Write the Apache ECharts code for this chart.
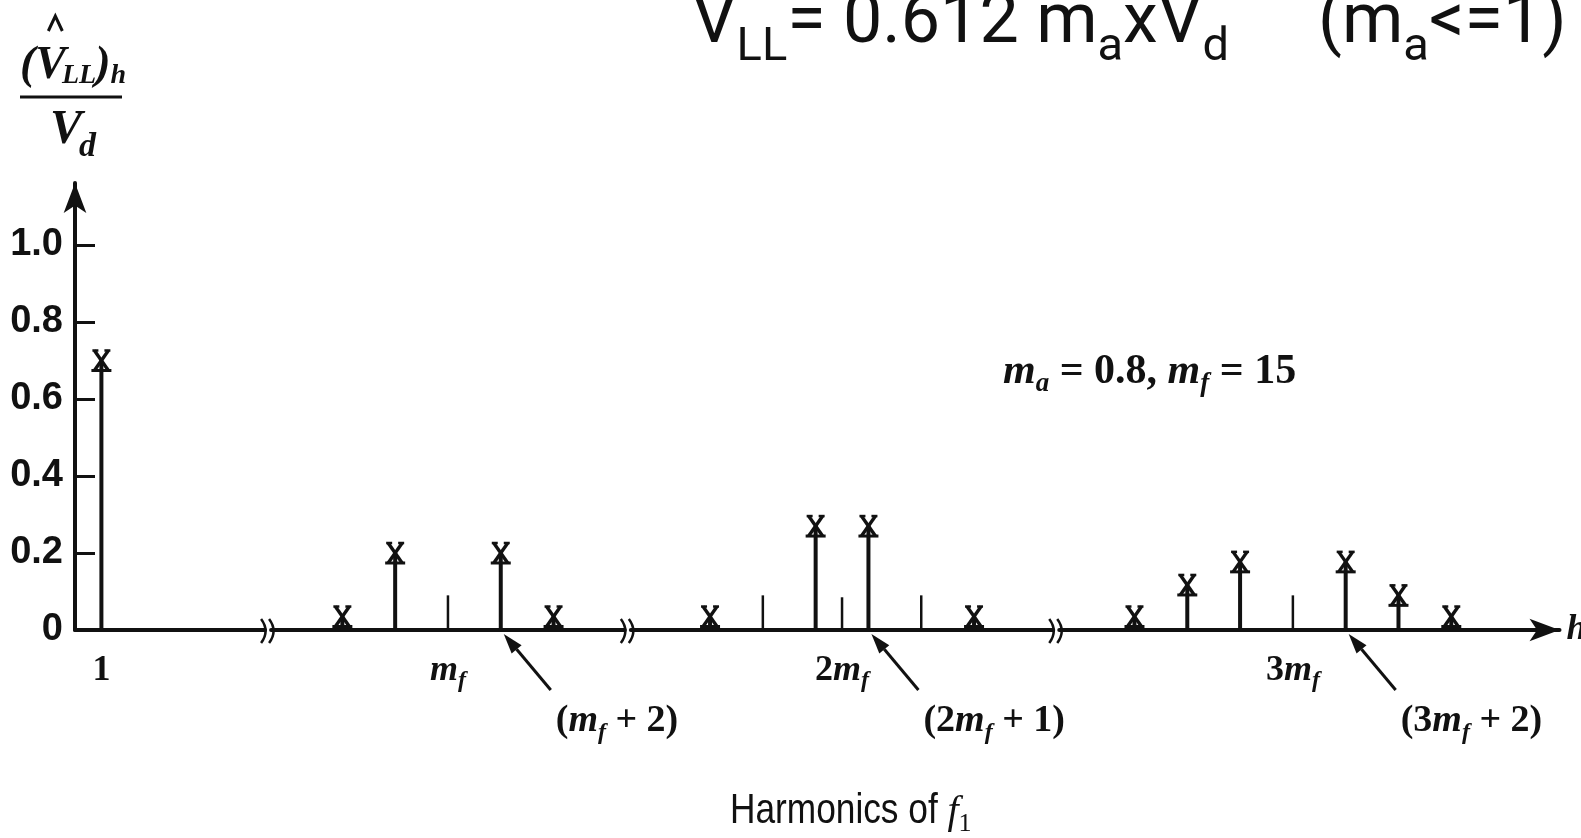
<!DOCTYPE html>
<html><head><meta charset="utf-8">
<script src="https://cdn.jsdelivr.net/npm/echarts@6/dist/echarts.min.js"></script>
<style>html,body{margin:0;padding:0;background:#fff}#c{width:1581px;height:838px}</style>
</head><body><div id="c"></div>
<script>
// ---------------- data ----------------
const harmonicOrders     = [1, 11, 13, 17, 19, 25, 29, 31, 35, 39, 41, 43, 47, 49, 51];
const harmonicAmplitudes = [0.70, 0.035, 0.20, 0.20, 0.035, 0.035, 0.27, 0.27, 0.035, 0.035, 0.117, 0.177, 0.177, 0.09, 0.035];
const tickOrders  = [15, 27, 30, 33, 45];
const tickHeights = [0.09, 0.09, 0.085, 0.09, 0.09];
const xLabelValues = [1, 15, 30, 45];
const xLabelTexts  = ['{n|1}', '{i|m}{s|f}', '{n|2}{i|m}{s|f}', '{n|3}{i|m}{s|f}'];
const yTickValues = [0, 0.2, 0.4, 0.6, 0.8, 1.0];
const yTickLabels = ['0', '0.2', '0.4', '0.6', '0.8', '1.0'];
const segMin = [0, 8.3, 22, 36.15];
const segMax = [7.2, 21.7, 38, 55.1];
const annotationOrders = [17, 31, 47];
const annotationTexts  = [['(', '+ 2)'], ['(2', '+ 1)'], ['(3', '+ 2)']];
const yMin = 0, yMax = 1.161;

// ---------------- layout / style ----------------
const UNIT = 26.4, GAP = 6, LEFT0 = 75, TOP = 183, BOTTOM = 208;
const INK = '#111';
const SERIF = '"Liberation Serif", "DejaVu Serif", serif';
const mctx = document.createElement('canvas').getContext('2d');
function hasFont(f) {
  const s = 'Harmonics 0.8 Wmi';
  mctx.font = '40px monospace'; const a = mctx.measureText(s).width;
  mctx.font = '40px "' + f + '", monospace'; const b = mctx.measureText(s).width;
  return Math.abs(a - b) > 0.5;
}
const HAS_NARROW = hasFont('Liberation Sans Narrow');
const NARROW = HAS_NARROW ? '"Liberation Sans Narrow", sans-serif' : '"Liberation Sans", sans-serif';
const NSX = HAS_NARROW ? 1 : 0.82;

function fontStr(r) { return (r.italic ? 'italic ' : 'normal ') + (r.bold ? 'bold ' : 'normal ') + r.size + 'px ' + r.family; }
function runs(x0, base, items) {
  let x = x0; const els = [], xs = [];
  for (const r of items) {
    mctx.font = fontStr(r);
    mctx.textBaseline = 'alphabetic'; const m1 = mctx.measureText(r.t);
    mctx.textBaseline = 'middle'; const m2 = mctx.measureText(r.t);
    let off = 0.3 * r.size;
    if (m1.fontBoundingBoxAscent != null && m2.fontBoundingBoxAscent != null) off = m1.fontBoundingBoxAscent - m2.fontBoundingBoxAscent;
    const sx = r.sx || 1;
    const y = base + (r.dy || 0) - off;
    const el = { type: 'text', x: x, y: y, z: 10, silent: true,
      style: { text: r.t, fill: INK, fontSize: r.size, fontFamily: r.family,
        fontWeight: r.bold ? 'bold' : 'normal', fontStyle: r.italic ? 'italic' : 'normal',
        align: 'left', verticalAlign: 'middle' } };
    if (sx !== 1) { el.scaleX = sx; el.originX = 0; el.originY = 0; }
    els.push(el);
    xs.push(x);
    x += m1.width * sx + (r.kern || 0);
  }
  return { els, xs, end: x };
}

const chart = echarts.init(document.getElementById('c'), null, { renderer: 'canvas' });

function segOf(h) { for (let i = 0; i < segMin.length; i++) if (h >= segMin[i] && h <= segMax[i]) return i; return -1; }

function renderStem(params, api) {
  const h = api.value(0), a = api.value(1);
  const p0 = api.coord([h, 0]), p1 = api.coord([h, a]);
  const cx = p1[0], cy = p1[1], w = 7, hh = 10;
  const st = { stroke: INK, lineWidth: 3.4 };
  return { type: 'group', children: [
    { type: 'line', shape: { x1: p0[0], y1: p0[1], x2: cx, y2: cy }, style: { stroke: INK, lineWidth: 4 } },
    { type: 'line', shape: { x1: cx - w, y1: cy - hh, x2: cx + w, y2: cy + hh }, style: st },
    { type: 'line', shape: { x1: cx + w, y1: cy - hh, x2: cx - w, y2: cy + hh }, style: st },
    { type: 'line', shape: { x1: cx - w - 2, y1: cy - hh, x2: cx - w + 4, y2: cy - hh }, style: { stroke: INK, lineWidth: 2.5 } },
    { type: 'line', shape: { x1: cx + w - 4, y1: cy - hh, x2: cx + w + 2, y2: cy - hh }, style: { stroke: INK, lineWidth: 2.5 } },
    { type: 'line', shape: { x1: cx - w - 3, y1: cy + hh, x2: cx + w + 3, y2: cy + hh }, style: { stroke: INK, lineWidth: 3 } }
  ]};
}
function renderTick(params, api) {
  const h = api.value(0), a = api.value(1);
  const p0 = api.coord([h, 0]), p1 = api.coord([h, a]);
  return { type: 'line', shape: { x1: p0[0], y1: p0[1], x2: p1[0], y2: p1[1] }, style: { stroke: INK, lineWidth: 2.5 } };
}

const grids = [], xAxes = [], yAxes = [], series = [];
const labelRich = {
  n: { fontFamily: SERIF, fontWeight: 'bold', fontSize: 36, lineHeight: 44, color: INK },
  i: { fontFamily: SERIF, fontWeight: 'bold', fontStyle: 'italic', fontSize: 36, lineHeight: 44, color: INK },
  s: { fontFamily: SERIF, fontWeight: 'bold', fontStyle: 'italic', fontSize: 24, lineHeight: 20, verticalAlign: 'bottom', color: INK }
};
let gx = LEFT0;
for (let i = 0; i < segMin.length; i++) {
  const w = (segMax[i] - segMin[i]) * UNIT;
  grids.push({ left: gx, width: w, top: TOP, bottom: BOTTOM, containLabel: false, outerBoundsMode: 'none' });
  gx += w + GAP;
  const last = i === segMin.length - 1;
  xAxes.push({
    type: 'value', gridIndex: i, min: segMin[i], max: segMax[i],
    axisLine: { show: true, onZero: true, lineStyle: { color: INK, width: 4 },
      symbol: last ? ['none', 'arrow'] : ['none', 'none'], symbolSize: [17, 30] },
    axisTick: { show: false }, splitLine: { show: false },
    axisLabel: { show: true, customValues: xLabelValues.filter(v => segOf(v) === i),
      formatter: v => xLabelTexts[xLabelValues.indexOf(v)], margin: 19,
      fontFamily: SERIF, fontWeight: 'bold', fontSize: 36, lineHeight: 44, color: INK, rich: labelRich },
    name: last ? 'h' : '', nameLocation: 'end', nameGap: 7,
    nameTextStyle: { fontFamily: SERIF, fontStyle: 'italic', fontWeight: 'bold', fontSize: 36, color: INK }
  });
  yAxes.push({
    type: 'value', gridIndex: i, min: yMin, max: yMax, show: i === 0,
    axisLine: { show: true, onZero: false, lineStyle: { color: INK, width: 4 }, symbol: ['none', 'arrow'], symbolSize: [17, 30] },
    axisTick: { show: true, inside: true, length: 20, lineStyle: { color: INK, width: 3 }, customValues: yTickValues.slice(1) },
    axisLabel: { show: true, customValues: yTickValues, formatter: v => yTickLabels[yTickValues.indexOf(v)],
      margin: 12, fontFamily: NARROW, fontWeight: 'bold', fontSize: HAS_NARROW ? 42 : 38, color: INK },
    splitLine: { show: false }
  });
  const stems = [], ticks = [];
  harmonicOrders.forEach((h, k) => { if (segOf(h) === i) stems.push([h, harmonicAmplitudes[k]]); });
  tickOrders.forEach((h, k) => { if (segOf(h) === i) ticks.push([h, tickHeights[k]]); });
  series.push({ type: 'custom', name: 'harmonics ' + i, coordinateSystem: 'cartesian2d', xAxisIndex: i, yAxisIndex: i,
    renderItem: renderStem, data: stems, z: 5, silent: true });
  series.push({ type: 'custom', name: 'positions ' + i, coordinateSystem: 'cartesian2d', xAxisIndex: i, yAxisIndex: i,
    renderItem: renderTick, data: ticks, z: 4, silent: true });
}

chart.setOption({ animation: false, backgroundColor: '#fff', grid: grids, xAxis: xAxes, yAxis: yAxes, series: series });

// ---------------- annotations (graphic) ----------------
const G = [];
const bi = (t, size, extra) => Object.assign({ t, size, family: SERIF, bold: true, italic: true }, extra || {});
const bu = (t, size, extra) => Object.assign({ t, size, family: SERIF, bold: true, italic: false }, extra || {});

// title
const R = '"Roboto", "Liberation Sans", sans-serif';
const tm = (t) => ({ t, size: 70, family: R });
const ts = (t) => ({ t, size: 47, family: R, dy: 18 });
G.push(...runs(692, 42, [tm('V'), ts('LL'), tm('= 0.612 m'), ts('a'), tm('xV'), ts('d')]).els);
G.push(...runs(1318, 42, [tm('(m'), ts('a'), tm('<=1)')]).els);

// y axis name: (V^_LL)_h / V_d
const num = runs(20, 78, [bi('(', 46), bi('V', 46, { kern: -4 }), bi('LL', 28, { dy: 5, kern: -1 }), bi(')', 46), bi('h', 28, { dy: 5 })]);
G.push(...num.els);
const vx = num.xs[1] + 20;
G.push({ type: 'polyline', z: 10, silent: true, shape: { points: [[vx - 7, 31], [vx, 16], [vx + 7, 31]] }, style: { stroke: INK, lineWidth: 3, fill: null } });
G.push({ type: 'line', z: 10, silent: true, shape: { x1: 20, y1: 97, x2: 122, y2: 97 }, style: { stroke: INK, lineWidth: 3 } });
G.push(...runs(50, 143, [bi('V', 48, { kern: -3 }), bi('d', 34, { dy: 13 })]).els);

// m_a = 0.8, m_f = 15
G.push(...runs(1003, 383, [bi('m', 42), bi('a', 27, { dy: 8 }), bu(' = 0.8, ', 42), bi('m', 42), bi('f', 27, { dy: 8 }), bu(' = 15', 42)]).els);

// Harmonics of f1
G.push(...runs(730, 823, [{ t: 'Harmonics of ', size: 43, family: NARROW, sx: NSX }, { t: 'f', size: 40, family: SERIF, italic: true }, { t: '1', size: 26, family: SERIF, dy: 8 }]).els);

// arrows with labels
annotationOrders.forEach((h, k) => {
  const i = segOf(h);
  const p = chart.convertToPixel({ gridIndex: i }, [h, 0]);
  const tip = [p[0] + 3, p[1] + 4], tail = [p[0] + 50, p[1] + 60];
  const dx = tip[0] - tail[0], dy = tip[1] - tail[1], L = Math.hypot(dx, dy), ux = dx / L, uy = dy / L;
  const hl = 20, hw = 6.5, bx = tip[0] - ux * hl, by = tip[1] - uy * hl;
  G.push({ type: 'line', z: 10, silent: true, shape: { x1: tail[0], y1: tail[1], x2: bx, y2: by }, style: { stroke: INK, lineWidth: 3 } });
  G.push({ type: 'polygon', z: 10, silent: true, shape: { points: [tip, [bx - uy * hw, by + ux * hw], [bx + uy * hw, by - ux * hw]] }, style: { fill: INK } });
  const parts = annotationTexts[k];
  G.push(...runs(p[0] + 55, 731, [bu(parts[0], 38), bi('m', 38), bi('f', 24, { dy: 8 }), bu(' ' + parts[1], 38)]).els);
});

// axis break marks
for (let i = 0; i < segMin.length - 1; i++) {
  const a = chart.convertToPixel({ gridIndex: i }, [segMax[i], 0]);
  const b = chart.convertToPixel({ gridIndex: i + 1 }, [segMin[i + 1], 0]);
  [a[0] - 1, b[0] + 1].forEach(x => {
    G.push({ type: 'bezierCurve', z: 10, silent: true, shape: { x1: x - 3, y1: a[1] - 11, x2: x - 3, y2: a[1] + 13, cpx1: x + 6, cpy1: a[1] + 1 }, style: { stroke: INK, lineWidth: 2.5, fill: null } });
  });
}

chart.setOption({ graphic: { elements: G } });
</script>
</body></html>
